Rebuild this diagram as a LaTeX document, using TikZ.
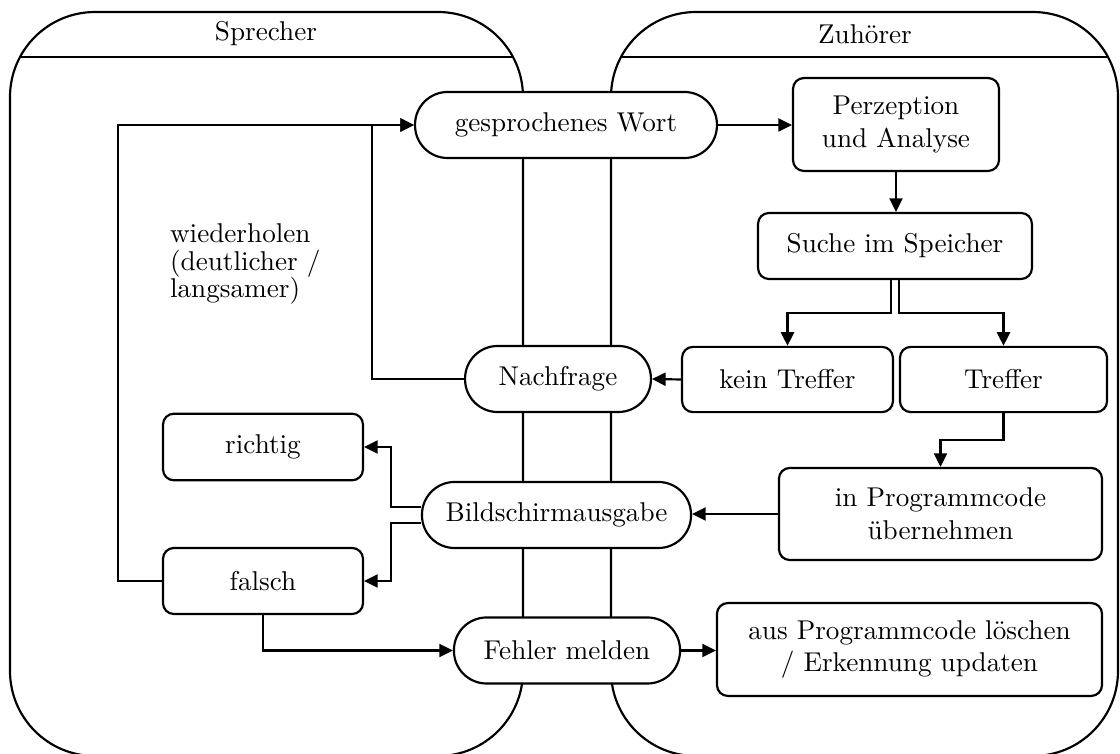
\documentclass[tikz,border=0pt]{standalone}
\usetikzlibrary{arrows.meta}
\begin{document}
\begin{tikzpicture}[x=0.368pt,y=-0.368pt, line width=0.8pt,
  >={Triangle[length=5pt,width=4.8pt]},
  box/.style={draw, fill=white, rounded corners=4pt, align=center, inner sep=0pt},
  pill/.style={draw, fill=white, rounded corners=12pt, align=center, inner sep=0pt, minimum height=24.3pt},
  lane/.style={draw, rounded corners=31.3pt},
  lbl/.style={inner sep=0pt}]
\useasboundingbox (0,0) rectangle (1120,754);
% swimlanes
\draw[lane] (10,12) rectangle (523,756);
\draw[lane] (611,12) rectangle (1118,756);
\begin{scope}
  \clip[rounded corners=31.3pt] (10,12) rectangle (523,756);
  \draw (0,57) -- (530,57);
\end{scope}
\begin{scope}
  \clip[rounded corners=31.3pt] (611,12) rectangle (1118,756);
  \draw (600,57) -- (1120,57);
\end{scope}
\node[lbl] (sprecher) at (266,34) {Sprecher};
\node[lbl] (zuhoerer) at (865,34) {Zuhörer};
% nodes
\node[pill, minimum width=111.1pt] (wort) at (566,125) {gesprochenes Wort};
\node[box, minimum width=75.8pt, minimum height=34.2pt] (perz) at (896,124.5) {Perzeption\\und Analyse};
\node[box, minimum width=100.8pt, minimum height=24.3pt] (suche) at (895,246) {Suche im Speicher};
\node[box, minimum width=77.6pt, minimum height=24pt] (kein) at (787.5,379.5) {kein Treffer};
\node[box, minimum width=76.2pt, minimum height=24pt] (treffer) at (1003.5,379.5) {Treffer};
\node[pill, minimum width=68.4pt] (nachfrage) at (558,379) {Nachfrage};
\node[box, minimum width=73.6pt, minimum height=24.5pt] (richtig) at (263,447) {richtig};
\node[pill, minimum width=99pt] (bild) at (556.5,515) {Bildschirmausgabe};
\node[box, minimum width=118.9pt, minimum height=33.9pt] (prog) at (940.5,514) {in Programmcode\\übernehmen};
\node[box, minimum width=73.6pt, minimum height=24.3pt] (falsch) at (263,581) {falsch};
\node[pill, minimum width=83.2pt] (fehler) at (567,650.5) {Fehler melden};
\node[box, minimum width=141.7pt, minimum height=34.2pt] (loeschen) at (909.5,649.5) {aus Programmcode löschen\\/ Erkennung updaten};
\node[lbl, anchor=west, align=left, font=\fontsize{10}{10}\selectfont] (wdh) at (169,264) {wiederholen\\(deutlicher /\\langsamer)};
% connectors
\draw[->] (wort.east) -- (wort.east -| perz.west);
\draw[->] (perz.south) -- (perz.south |- suche.north);
\draw[->] ([xshift=-1.6pt]suche.south) -- ++(0,33) -| (kein.north);
\draw[->] ([xshift=1.6pt]suche.south) -- ++(0,33) -| (treffer.north);
\draw[->] (kein.west) -- (nachfrage.east);
\draw[->] (nachfrage.west) -- ++(-92,0) |- (wort.west);
\draw[->] (falsch.west) -- ++(-44,0) |- (wort.west);
\draw[->] (treffer.south) -- ++(0,27) -| (prog.north);
\draw[->] (prog.west) -- (prog.west -| bild.east);
\draw[->] ([yshift=2.8pt]bild.west) -- ++(-30,0) |- (richtig.east);
\draw[->] ([yshift=-2.8pt]bild.west) -- ++(-30,0) |- (falsch.east);
\draw[->] (falsch.south) |- (fehler.west);
\draw[->] (fehler.east) -- (fehler.east -| loeschen.west);
\end{tikzpicture}
\end{document}
